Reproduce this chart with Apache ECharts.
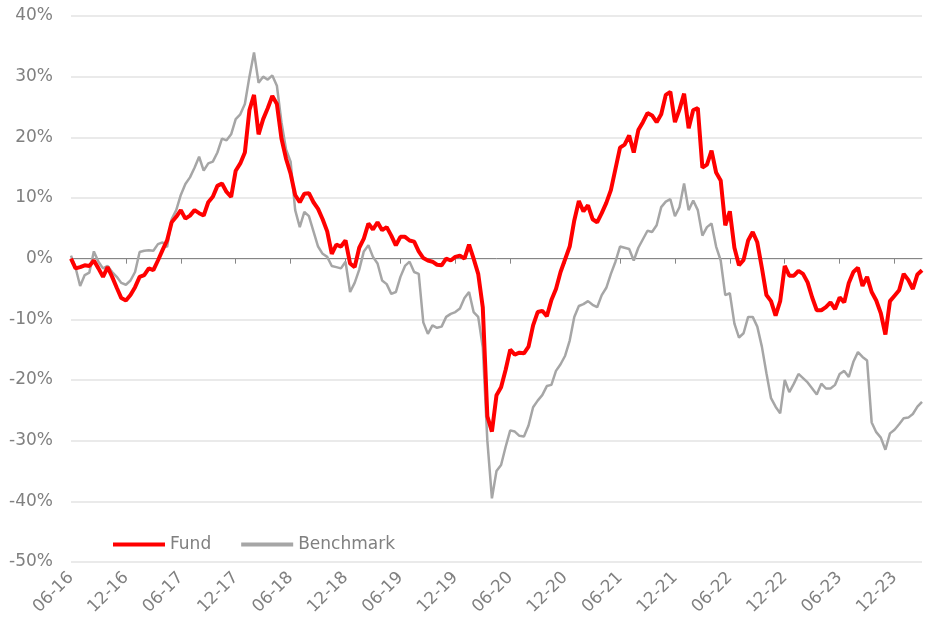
<!DOCTYPE html>
<html>
<head>
<meta charset="utf-8">
<script src="https://cdn.jsdelivr.net/npm/echarts@6/dist/echarts.min.js"></script>
<style>
html,body{margin:0;padding:0;background:#fff;}
#chart{width:930px;height:627px;}
</style>
</head>
<body>
<div id="chart"></div>
<script>
// Semi-monthly observations from Jun 2016 to Feb 2024 (index 0 = 06-16)
const tickLabels = ['06-16','12-16','06-17','12-17','06-18','12-18','06-19','12-19','06-20','12-20','06-21','12-21','06-22','12-22','06-23','12-23'];

const fund = [
 0.0,-1.6,-1.4,-1.1,-1.2,-0.3,-1.6,-3.0,-1.4,-3.0,
 -4.8,-6.5,-6.9,-6.0,-4.7,-3.0,-2.7,-1.6,-1.9,-0.3,
 1.4,3.0,6.0,6.9,8.0,6.6,7.1,8.0,7.5,7.1,
 9.3,10.2,12.0,12.4,11.0,10.2,14.5,15.7,17.5,24.5,
 27.0,20.5,23.0,24.8,26.8,25.5,19.8,16.5,14.0,10.5,
 9.3,10.7,10.8,9.3,8.2,6.5,4.5,0.8,2.3,2.0,
 3.0,-0.8,-1.4,1.8,3.3,5.8,4.8,6.0,4.7,5.2,
 3.8,2.2,3.6,3.6,3.0,2.8,1.2,0.1,-0.3,-0.5,
 -1.0,-1.1,0.0,-0.3,0.3,0.5,0.0,2.3,0.0,-2.5,
 -8.0,-26.0,-28.5,-22.5,-21.2,-18.3,-15.0,-15.8,-15.5,-15.6,
 -14.5,-11.0,-8.8,-8.6,-9.5,-6.8,-5.0,-2.2,-0.1,2.0,
 6.3,9.5,7.8,8.8,6.5,6.0,7.5,9.2,11.3,14.8,
 18.3,18.8,20.3,17.5,21.2,22.5,24.0,23.6,22.5,23.8,
 27.0,27.5,22.5,24.6,27.2,21.5,24.5,24.8,15.0,15.5,
 17.8,14.2,12.9,5.5,7.8,1.8,-1.1,-0.2,3.0,4.4,
 2.7,-1.5,-6.0,-7.0,-9.4,-7.0,-1.2,-2.8,-2.8,-2.0,
 -2.5,-3.9,-6.4,-8.5,-8.5,-8.0,-7.2,-8.3,-6.4,-7.2,
 -4.0,-2.2,-1.5,-4.5,-3.0,-5.5,-6.9,-9.0,-12.5,-7.0,
 -6.1,-5.2,-2.5,-3.5,-5.0,-2.6,-1.9
];

const benchmark = [
 0.5,-1.5,-4.5,-2.7,-2.3,1.2,-0.5,-1.6,-1.2,-2.2,
 -3.0,-4.0,-4.3,-3.6,-2.2,1.1,1.3,1.4,1.3,2.4,
 2.7,1.9,6.5,8.0,10.5,12.3,13.4,15.0,16.8,14.5,
 15.7,16.0,17.5,19.8,19.5,20.5,23.0,23.8,25.5,30.0,
 34.0,29.0,30.0,29.5,30.2,28.5,22.5,18.0,16.0,8.0,
 5.2,7.7,7.0,4.5,2.0,0.8,0.3,-1.2,-1.4,-1.6,
 -0.5,-5.5,-4.0,-1.8,1.2,2.2,0.3,-0.8,-3.6,-4.2,
 -5.8,-5.5,-3.0,-1.2,-0.5,-2.2,-2.5,-10.5,-12.4,-11.0,
 -11.4,-11.2,-9.6,-9.1,-8.8,-8.2,-6.5,-5.5,-8.8,-9.6,
 -14.6,-30.0,-39.5,-35.0,-34.0,-31.0,-28.3,-28.5,-29.2,-29.3,
 -27.5,-24.5,-23.4,-22.5,-21.0,-20.8,-18.5,-17.4,-16.0,-13.5,
 -9.6,-7.8,-7.5,-7.0,-7.6,-8.0,-6.0,-4.8,-2.5,-0.5,
 2.0,1.8,1.6,-0.3,1.8,3.2,4.6,4.4,5.5,8.5,
 9.4,9.8,7.0,8.5,12.4,8.0,9.6,8.0,3.8,5.2,
 5.8,2.0,-0.3,-6.0,-5.7,-10.7,-13.0,-12.3,-9.6,-9.6,
 -11.2,-14.5,-18.9,-23.0,-24.4,-25.5,-20.0,-22.0,-20.6,-19.0,
 -19.7,-20.4,-21.4,-22.4,-20.6,-21.4,-21.4,-20.8,-19.0,-18.5,
 -19.5,-17.0,-15.4,-16.2,-16.8,-27.0,-28.6,-29.5,-31.5,-28.8,
 -28.2,-27.3,-26.3,-26.2,-25.6,-24.4,-23.6
];

// category labels: semi-monthly periods
const categories = [];
for (let i = 0; i < fund.length; i++) {
  const m = 5 + Math.floor(i / 2); // months since Jan 2016
  const y = 2016 + Math.floor(m / 12);
  const mm = (m % 12) + 1;
  categories.push(y + '-' + String(mm).padStart(2, '0') + (i % 2 ? '-15' : '-01'));
}

const FONT = 'DejaVu Sans';
const chart = echarts.init(document.getElementById('chart'));
chart.setOption({
  animation: false,
  textStyle: { fontFamily: FONT },
  grid: { left: 71, right: 8, top: 16, bottom: 65, containLabel: false },
  legend: {
    left: 108, top: 531,
    itemWidth: 52, itemHeight: 4, itemGap: 30,
    textStyle: { color: '#808080', fontSize: 17, fontFamily: FONT, padding: [0, 0, 0, 0] },
    data: [
      { name: 'Fund', icon: 'rect', itemStyle: { color: '#ff0000' } },
      { name: 'Benchmark', icon: 'rect', itemStyle: { color: '#a6a6a6' } }
    ]
  },
  xAxis: [
    {
      type: 'category', data: categories, boundaryGap: false,
      axisLine: { onZero: true, lineStyle: { color: '#868686', width: 1 } },
      axisTick: { show: true, interval: 11, length: 5, lineStyle: { color: '#868686' } },
      axisLabel: { show: false },
      splitLine: { show: false }
    },
    {
      type: 'category', data: categories, boundaryGap: false, position: 'bottom',
      axisLine: { show: false, onZero: false },
      axisTick: { show: false },
      axisLabel: {
        show: true, interval: 11, rotate: 45, margin: 13,
        color: '#808080', fontSize: 17, fontFamily: FONT,
        formatter: function (v, idx) { return tickLabels[Math.round(idx / 12)] || ''; }
      },
      splitLine: { show: false }
    }
  ],
  yAxis: {
    type: 'value', min: -50, max: 40, interval: 10,
    axisLine: { show: false }, axisTick: { show: false },
    axisLabel: { color: '#808080', fontSize: 17, fontFamily: FONT, margin: 18, formatter: '{value}%' },
    splitLine: { lineStyle: { color: '#e3e3e3', width: 1.5 } }
  },
  series: [
    {
      name: 'Benchmark', type: 'line', data: benchmark, xAxisIndex: 0,
      symbol: 'none', lineStyle: { color: '#a6a6a6', width: 2.5 },
      itemStyle: { color: '#a6a6a6' }, z: 2
    },
    {
      name: 'Fund', type: 'line', data: fund, xAxisIndex: 0,
      symbol: 'none', lineStyle: { color: '#ff0000', width: 4 },
      itemStyle: { color: '#ff0000' }, z: 3
    }
  ]
});
</script>
</body>
</html>
